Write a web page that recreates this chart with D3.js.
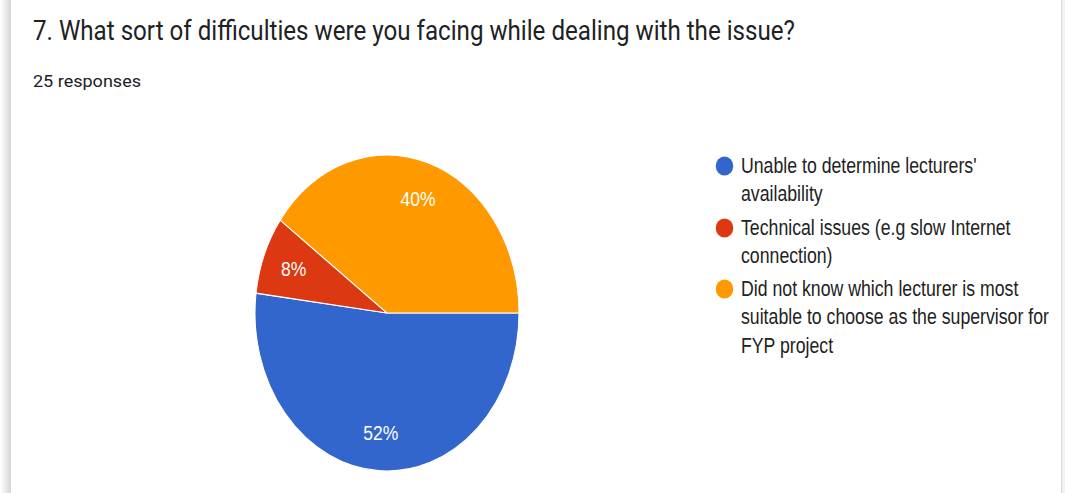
<!DOCTYPE html>
<html>
<head>
<meta charset="utf-8">
<script src="https://cdn.jsdelivr.net/npm/d3@7/dist/d3.min.js"></script>
<style>
  body { margin: 0; background: #fff; }
  svg { display: block; font-family: Roboto, Arial, sans-serif; }
</style>
</head>
<body>
<svg id="chart" width="1065" height="493"></svg>
<script>
// data (25 responses)
var categories = [
    ["Unable to determine lecturers'", "availability"],
    ["Technical issues (e.g slow Internet", "connection)"],
    ["Did not know which lecturer is most", "suitable to choose as the supervisor for", "FYP project"]
];
var counts = [13, 2, 10];
var colors = ["#3366cc", "#dc3912", "#ff9900"];
var title = "7. What sort of difficulties were you facing while dealing with the issue?";
var subtitle = "25 responses";

// the screenshot is stretched vertically
var stretch = 1.2;
var chartFont = "'Liberation Sans', Arial, sans-serif";

var svg = d3.select("#chart");

// card edges
var defs = svg.append("defs");
var grad = defs.append("linearGradient").attr("id", "lshadow");
grad.append("stop").attr("offset", "0%").attr("stop-color", "#ffffff");
grad.append("stop").attr("offset", "100%").attr("stop-color", "#d6d6d6");
svg.append("rect").attr("x", 0).attr("y", 0).attr("width", 11).attr("height", 493)
    .attr("fill", "url(#lshadow)");
svg.append("rect").attr("x", 1061).attr("y", 0).attr("width", 1).attr("height", 493)
    .attr("fill", "#dadada");
svg.append("rect").attr("x", 1062).attr("y", 0).attr("width", 3).attr("height", 493)
    .attr("fill", "#f2f2f2");

function addText(x, y, str, size, width, color, font) {
    var t = svg.append("text")
        .attr("transform", "translate(" + x + "," + y + ") scale(1," + stretch + ")")
        .attr("font-size", size)
        .attr("fill", color)
        .text(str);
    if (font) t.attr("font-family", font);
    if (width) {
        t.attr("textLength", width).attr("lengthAdjust", "spacingAndGlyphs");
    }
    return t;
}

addText(33, 39.5, title, 22.5, 762, "#202124");
addText(33, 86.5, subtitle, 14.5, 108, "#202124");

// pie
var cx = 387, cy = 313, R = 132;
var pie = d3.pie().sort(null).value(function (d) { return d; })
    .startAngle(Math.PI / 2).endAngle(Math.PI / 2 + 2 * Math.PI);
var arcs = pie(counts);
var arc = d3.arc().innerRadius(0).outerRadius(R);
var labelArc = d3.arc().innerRadius(R * 0.52).outerRadius(R);
var total = d3.sum(counts);

var g = svg.append("g")
    .attr("transform", "translate(" + cx + "," + cy + ") scale(1," + (158 / 132) + ")");

g.selectAll("path")
    .data(arcs)
    .enter()
    .append("path")
    .attr("d", arc)
    .attr("fill", function (d, i) { return colors[i]; })
    .attr("stroke", "#ffffff")
    .attr("stroke-width", 1);

g.selectAll("text")
    .data(arcs)
    .enter()
    .append("text")
    .attr("transform", function (d) {
        var c = labelArc.centroid(d);
        return "translate(" + c[0] + "," + c[1] + ")";
    })
    .attr("text-anchor", "middle")
    .attr("dy", "0.36em")
    .attr("font-family", chartFont)
    .attr("font-size", 17.5)
    .attr("fill", "#ffffff")
    .text(function (d) { return Math.round(d.value / total * 100) + "%"; });

// legend
var itemY = [173, 235, 296];
categories.forEach(function (lines, i) {
    svg.append("ellipse")
        .attr("cx", 724.5).attr("cy", itemY[i] - 7)
        .attr("rx", 8.8).attr("ry", 9.6)
        .attr("fill", colors[i]);
    lines.forEach(function (line, j) {
        addText(741, itemY[i] + j * 28.3, line, 17.7, null, "#222222", chartFont);
    });
});
</script>
</body>
</html>
